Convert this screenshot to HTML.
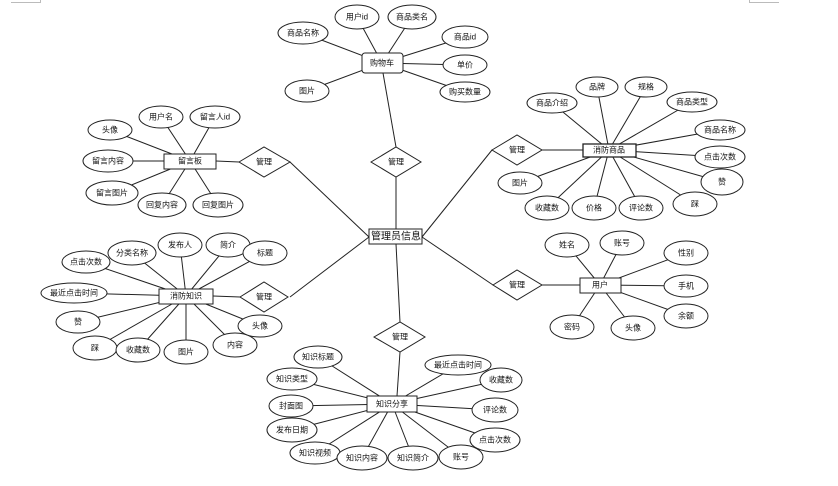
<!DOCTYPE html>
<html><head><meta charset="utf-8"><style>
html,body{margin:0;padding:0;background:#fff;}
svg text{font-family:"Liberation Sans","Noto Sans CJK SC",sans-serif;font-size:8px;fill:#111;text-anchor:middle;dominant-baseline:central;}
</style></head><body>
<svg width="838" height="481" viewBox="0 0 838 481" xmlns="http://www.w3.org/2000/svg">
<g stroke="#bbb" stroke-width="1" fill="none">
<path d="M11 2.5H40.5V0"/><path d="M779 2.5H749.5V0"/>
</g>
<g stroke="#222" stroke-width="1" fill="none">
<!-- center connections -->
<line x1="396" y1="177" x2="396" y2="229"/>
<line x1="383" y1="73" x2="396" y2="147"/>
<line x1="396" y1="244" x2="400" y2="322"/>
<line x1="400" y1="352" x2="397" y2="396"/>
<line x1="290" y1="162" x2="369" y2="237"/>
<line x1="239" y1="162" x2="216" y2="161"/>
<line x1="290" y1="297" x2="369" y2="237"/>
<line x1="240" y1="297" x2="213" y2="296"/>
<line x1="422" y1="237" x2="492" y2="150"/>
<line x1="542" y1="150" x2="583" y2="150"/>
<line x1="422" y1="237" x2="493" y2="285"/>
<line x1="542" y1="285" x2="580" y2="285"/>
<!-- 购物车 -->
<g>
<line x1="382" y1="63" x2="303" y2="33"/><line x1="382" y1="63" x2="357" y2="17"/><line x1="382" y1="63" x2="412" y2="17"/>
<line x1="382" y1="63" x2="465" y2="37"/><line x1="382" y1="63" x2="465" y2="65"/><line x1="382" y1="63" x2="465" y2="92"/><line x1="382" y1="63" x2="307" y2="91"/>
</g>
<!-- 消防商品 -->
<g>
<line x1="609" y1="150" x2="552" y2="103"/><line x1="609" y1="150" x2="597" y2="87"/><line x1="609" y1="150" x2="646" y2="87"/><line x1="609" y1="150" x2="692" y2="102"/>
<line x1="609" y1="150" x2="720" y2="130"/><line x1="609" y1="150" x2="720" y2="157"/><line x1="609" y1="150" x2="722" y2="182"/><line x1="609" y1="150" x2="695" y2="204"/>
<line x1="609" y1="150" x2="641" y2="208"/><line x1="609" y1="150" x2="594" y2="208"/><line x1="609" y1="150" x2="547" y2="208"/><line x1="609" y1="150" x2="520" y2="183"/>
</g>
<!-- 用户 -->
<g>
<line x1="600" y1="285" x2="567" y2="245"/><line x1="600" y1="285" x2="622" y2="243"/><line x1="600" y1="285" x2="686" y2="253"/><line x1="600" y1="285" x2="686" y2="286"/>
<line x1="600" y1="285" x2="686" y2="316"/><line x1="600" y1="285" x2="633" y2="328"/><line x1="600" y1="285" x2="572" y2="327"/>
</g>
<!-- 留言板 -->
<g>
<line x1="190" y1="161" x2="110" y2="130"/><line x1="190" y1="161" x2="161" y2="117"/><line x1="190" y1="161" x2="215" y2="117"/><line x1="190" y1="161" x2="108" y2="161"/>
<line x1="190" y1="161" x2="112" y2="193"/><line x1="190" y1="161" x2="162" y2="205"/><line x1="190" y1="161" x2="218" y2="205"/>
</g>
<!-- 消防知识 -->
<g>
<line x1="186" y1="296" x2="86" y2="262"/><line x1="186" y1="296" x2="132" y2="253"/><line x1="186" y1="296" x2="180" y2="245"/><line x1="186" y1="296" x2="228" y2="245"/>
<line x1="186" y1="296" x2="265" y2="253"/><line x1="186" y1="296" x2="74" y2="293"/><line x1="186" y1="296" x2="78" y2="322"/><line x1="186" y1="296" x2="95" y2="348"/>
<line x1="186" y1="296" x2="138" y2="350"/><line x1="186" y1="296" x2="186" y2="352"/><line x1="186" y1="296" x2="235" y2="345"/><line x1="186" y1="296" x2="260" y2="326"/>
</g>
<!-- 知识分享 -->
<g>
<line x1="392" y1="404" x2="318" y2="357"/><line x1="392" y1="404" x2="292" y2="379"/><line x1="392" y1="404" x2="291" y2="406"/><line x1="392" y1="404" x2="292" y2="430"/>
<line x1="392" y1="404" x2="315" y2="453"/><line x1="392" y1="404" x2="362" y2="458"/><line x1="392" y1="404" x2="413" y2="458"/><line x1="392" y1="404" x2="461" y2="457"/>
<line x1="392" y1="404" x2="495" y2="440"/><line x1="392" y1="404" x2="495" y2="410"/><line x1="392" y1="404" x2="501" y2="380"/><line x1="392" y1="404" x2="458" y2="365"/>
</g>
</g>
<g stroke="#222" stroke-width="1" fill="#fff">
<!-- diamonds -->
<polygon points="371,162 396,147 421,162 396,177"/>
<polygon points="374,337 400,322 425,337 400,352"/>
<polygon points="239,162 264,147 290,162 264,177"/>
<polygon points="240,297 264,282 288,297 264,312"/>
<polygon points="492,150 517,135 542,150 517,165"/>
<polygon points="493,285 517,270 542,285 517,300"/>
<!-- entities -->
<rect x="369" y="229" width="53" height="15"/>
<rect x="362" y="53" width="41" height="20" rx="3"/>
<rect x="583" y="144" width="53" height="13" stroke-width="1.3"/>
<rect x="580" y="278" width="41" height="15"/>
<rect x="164" y="154" width="52" height="15"/>
<rect x="159" y="289" width="54" height="15"/>
<rect x="367" y="396" width="50" height="16"/>
<!-- ellipses 购物车 -->
<ellipse cx="303" cy="33" rx="25" ry="11"/><ellipse cx="357" cy="17" rx="22" ry="12"/><ellipse cx="412" cy="17" rx="24" ry="12"/>
<ellipse cx="465" cy="37" rx="23" ry="11"/><ellipse cx="465" cy="65" rx="22" ry="10"/><ellipse cx="465" cy="92" rx="25" ry="10"/><ellipse cx="307" cy="91" rx="22" ry="11"/>
<!-- 消防商品 -->
<ellipse cx="552" cy="103" rx="25" ry="10"/><ellipse cx="597" cy="87" rx="21" ry="10"/><ellipse cx="646" cy="87" rx="21" ry="10"/><ellipse cx="692" cy="102" rx="25" ry="10"/>
<ellipse cx="720" cy="130" rx="25" ry="10"/><ellipse cx="720" cy="157" rx="25" ry="11"/><ellipse cx="722" cy="182" rx="21" ry="13"/><ellipse cx="695" cy="204" rx="22" ry="12"/>
<ellipse cx="641" cy="208" rx="22" ry="12"/><ellipse cx="594" cy="208" rx="22" ry="12"/><ellipse cx="547" cy="208" rx="22" ry="12"/><ellipse cx="520" cy="183" rx="22" ry="11"/>
<!-- 用户 -->
<ellipse cx="567" cy="245" rx="22" ry="12"/><ellipse cx="622" cy="243" rx="22" ry="12"/><ellipse cx="686" cy="253" rx="22" ry="12"/><ellipse cx="686" cy="286" rx="22" ry="11"/>
<ellipse cx="686" cy="316" rx="22" ry="12"/><ellipse cx="633" cy="328" rx="22" ry="12"/><ellipse cx="572" cy="327" rx="22" ry="12"/>
<!-- 留言板 -->
<ellipse cx="110" cy="130" rx="22" ry="10"/><ellipse cx="161" cy="117" rx="22" ry="11"/><ellipse cx="215" cy="117" rx="25" ry="11"/><ellipse cx="108" cy="161" rx="25" ry="11"/>
<ellipse cx="112" cy="193" rx="26" ry="12"/><ellipse cx="162" cy="205" rx="24" ry="12"/><ellipse cx="218" cy="205" rx="25" ry="12"/>
<!-- 消防知识 -->
<ellipse cx="86" cy="262" rx="24" ry="11"/><ellipse cx="132" cy="253" rx="24" ry="12"/><ellipse cx="180" cy="245" rx="22" ry="12"/><ellipse cx="228" cy="245" rx="22" ry="12"/>
<ellipse cx="265" cy="253" rx="22" ry="12"/><ellipse cx="74" cy="293" rx="33" ry="10"/><ellipse cx="78" cy="322" rx="22" ry="11"/><ellipse cx="95" cy="348" rx="22" ry="12"/>
<ellipse cx="138" cy="350" rx="22" ry="12"/><ellipse cx="186" cy="352" rx="22" ry="12"/><ellipse cx="235" cy="345" rx="22" ry="12"/><ellipse cx="260" cy="326" rx="22" ry="11"/>
<!-- 知识分享 -->
<ellipse cx="318" cy="357" rx="24" ry="11"/><ellipse cx="292" cy="379" rx="25" ry="11"/><ellipse cx="291" cy="406" rx="22" ry="11"/><ellipse cx="292" cy="430" rx="25" ry="12"/>
<ellipse cx="315" cy="453" rx="25" ry="11"/><ellipse cx="362" cy="458" rx="25" ry="12"/><ellipse cx="413" cy="458" rx="25" ry="12"/><ellipse cx="461" cy="457" rx="22" ry="12"/>
<ellipse cx="495" cy="440" rx="25" ry="12"/><ellipse cx="495" cy="410" rx="23" ry="12"/><ellipse cx="501" cy="380" rx="21" ry="12"/><ellipse cx="458" cy="365" rx="33" ry="10"/>
</g>
<g>
<text x="396" y="162" fill="#333">管理</text><text x="400" y="337" fill="#333">管理</text><text x="264" y="162" fill="#333">管理</text>
<text x="264" y="297" fill="#333">管理</text><text x="517" y="150" fill="#333">管理</text><text x="517" y="285" fill="#333">管理</text>
<text x="396" y="237" style="font-size:10px">管理员信息</text>
<text x="382" y="63">购物车</text><text x="609" y="150">消防商品</text><text x="600" y="285">用户</text>
<text x="190" y="161">留言板</text><text x="186" y="296">消防知识</text><text x="392" y="404">知识分享</text>
<text x="303" y="33">商品名称</text><text x="357" y="17">用户id</text><text x="412" y="17">商品类名</text>
<text x="465" y="37">商品id</text><text x="465" y="65">单价</text><text x="465" y="92">购买数量</text><text x="307" y="91">图片</text>
<text x="552" y="103">商品介绍</text><text x="597" y="87">品牌</text><text x="646" y="87">规格</text><text x="692" y="102">商品类型</text>
<text x="720" y="130">商品名称</text><text x="720" y="157">点击次数</text><text x="722" y="182">赞</text><text x="695" y="204">踩</text>
<text x="641" y="208">评论数</text><text x="594" y="208">价格</text><text x="547" y="208">收藏数</text><text x="520" y="183">图片</text>
<text x="567" y="245">姓名</text><text x="622" y="243">账号</text><text x="686" y="253">性别</text><text x="686" y="286">手机</text>
<text x="686" y="316">余额</text><text x="633" y="328">头像</text><text x="572" y="327">密码</text>
<text x="110" y="130">头像</text><text x="161" y="117">用户名</text><text x="215" y="117">留言人id</text><text x="108" y="161">留言内容</text>
<text x="112" y="193">留言图片</text><text x="162" y="205">回复内容</text><text x="218" y="205">回复图片</text>
<text x="86" y="262">点击次数</text><text x="132" y="253">分类名称</text><text x="180" y="245">发布人</text><text x="228" y="245">简介</text>
<text x="265" y="253">标题</text><text x="74" y="293">最近点击时间</text><text x="78" y="322">赞</text><text x="95" y="348">踩</text>
<text x="138" y="350">收藏数</text><text x="186" y="352" fill="#333">图片</text><text x="235" y="345">内容</text><text x="260" y="326">头像</text>
<text x="318" y="357">知识标题</text><text x="292" y="379">知识类型</text><text x="291" y="406">封面图</text><text x="292" y="430">发布日期</text>
<text x="315" y="453">知识视频</text><text x="362" y="458">知识内容</text><text x="413" y="458">知识简介</text><text x="461" y="457">账号</text>
<text x="495" y="440">点击次数</text><text x="495" y="410">评论数</text><text x="501" y="380">收藏数</text><text x="458" y="365">最近点击时间</text>
</g>
</svg>
</body></html>
